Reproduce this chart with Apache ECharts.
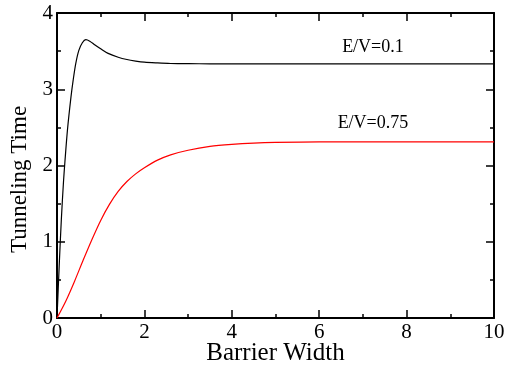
<!DOCTYPE html>
<html>
<head>
<meta charset="utf-8">
<script src="https://cdn.jsdelivr.net/npm/echarts@6/dist/echarts.min.js"></script>
<style>
  html, body { margin: 0; padding: 0; background: #fff; }
  #chart { width: 514px; height: 368px; }
</style>
</head>
<body>
<div id="chart"></div>
<script>
// E/V = 0.1 (black)
const blackX = [0, 0.05, 0.1, 0.15, 0.18, 0.24, 0.32, 0.37, 0.43, 0.5, 0.58, 0.66, 0.75, 0.87, 1.0, 1.17, 1.4, 1.6, 1.8, 2.0, 2.3, 2.6, 3.0, 3.5, 4, 5, 6, 7, 8, 9, 10]
const blackY = [0, 0.68, 1.3, 1.8, 2.04, 2.47, 2.9, 3.12, 3.34, 3.51, 3.61, 3.65, 3.63, 3.58, 3.53, 3.47, 3.42, 3.39, 3.37, 3.355, 3.345, 3.338, 3.335, 3.334, 3.333, 3.333, 3.333, 3.333, 3.333, 3.333, 3.333]
// E/V = 0.75 (red)
const redX = [0, 0.2, 0.4, 0.6, 0.8, 1.0, 1.2, 1.4, 1.6, 1.8, 2.0, 2.3, 2.6, 3.0, 3.5, 4, 4.5, 5, 6, 7, 8, 9, 10]
const redY = [0, 0.22, 0.48, 0.76, 1.03, 1.28, 1.49, 1.66, 1.79, 1.89, 1.97, 2.07, 2.14, 2.2, 2.25, 2.277, 2.294, 2.303, 2.31, 2.31, 2.31, 2.31, 2.31]
const xTicks = [0, 2, 4, 6, 8, 10]
const yTicks = [0, 1, 2, 3, 4]
const curveLabels = ['E/V=0.1', 'E/V=0.75']

const font = 'Liberation Serif, Times New Roman, serif'
const zip = (xs, ys) => xs.map((x, i) => [x, ys[i]])

const axisBase = (show) => ({
  type: 'value',
  axisLine: { show: true, onZero: false, lineStyle: { color: '#000', width: 2 } },
  axisTick: { show: true, inside: true, length: 8, lineStyle: { color: '#000', width: 1.5 } },
  minorTick: { show: true, splitNumber: 2, length: 4, lineStyle: { color: '#000', width: 1.5 } },
  splitLine: { show: false },
  axisLabel: { show, color: '#000', fontFamily: font, fontSize: 21, margin: 4 },
})

const chart = echarts.init(document.getElementById('chart'))
chart.setOption({
  animation: false,
  backgroundColor: '#fff',
  grid: { left: 57, right: 20, top: 13, bottom: 50, outerBoundsMode: 'none' },
  xAxis: [
    {
      ...axisBase(true),
      position: 'bottom',
      min: xTicks[0], max: xTicks[xTicks.length - 1], interval: xTicks[1] - xTicks[0],
      name: 'Barrier Width',
      nameLocation: 'middle',
      nameMoveOverlap: false,
      nameGap: 23,
      nameTextStyle: { color: '#000', fontFamily: font, fontSize: 25 },
    },
    {
      ...axisBase(false),
      position: 'top',
      min: xTicks[0], max: xTicks[xTicks.length - 1], interval: xTicks[1] - xTicks[0],
    },
  ],
  yAxis: [
    {
      ...axisBase(true),
      position: 'left',
      min: yTicks[0], max: yTicks[yTicks.length - 1], interval: yTicks[1] - yTicks[0],
      name: 'Tunneling Time',
      nameLocation: 'middle',
      nameGap: 21,
      nameTextStyle: { color: '#000', fontFamily: font, fontSize: 23, padding: [0, 28, 0, 0] },
    },
    {
      ...axisBase(false),
      position: 'right',
      min: yTicks[0], max: yTicks[yTicks.length - 1], interval: yTicks[1] - yTicks[0],
    },
  ],
  series: [
    {
      type: 'line',
      data: zip(blackX, blackY),
      showSymbol: false,
      smooth: 0.3,
      lineStyle: { color: '#000', width: 1.2 },
      markPoint: {
        symbol: 'circle', symbolSize: 0,
        label: { show: true, position: 'inside', color: '#000', fontFamily: font, fontSize: 18, formatter: curveLabels[0] },
        data: [{ coord: [7.23, 3.55] }],
      },
    },
    {
      type: 'line',
      data: zip(redX, redY),
      showSymbol: false,
      smooth: 0.3,
      lineStyle: { color: '#ff0000', width: 1.2 },
      markPoint: {
        symbol: 'circle', symbolSize: 0,
        label: { show: true, position: 'inside', color: '#000', fontFamily: font, fontSize: 18, formatter: curveLabels[1] },
        data: [{ coord: [7.23, 2.56] }],
      },
    },
  ],
})
</script>
</body>
</html>
